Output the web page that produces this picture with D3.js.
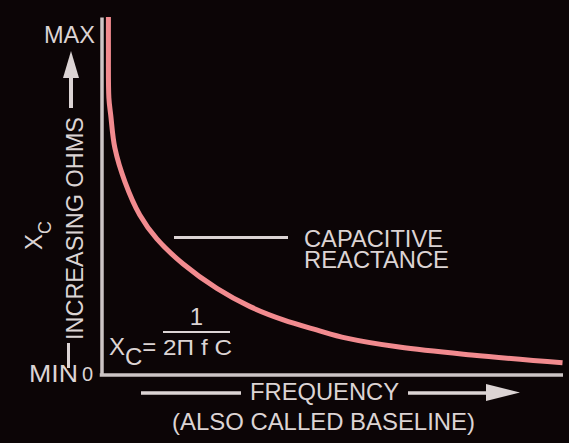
<!DOCTYPE html>
<html><head><meta charset="utf-8">
<script src="https://cdn.jsdelivr.net/npm/d3@7"></script>
<style>
html,body{margin:0;padding:0;background:#0c0506;}
svg{display:block;}
text{font-family:"Liberation Sans",Arial,sans-serif;fill:#dcd4d4;}
</style></head>
<body>
<script>
// Data (arbitrary units 0-100)
const frequency = [1.5, 1.5, 1.6, 2.0, 2.9, 5.1, 8.3, 12.0, 17.7, 25.0, 32.2, 39.4, 46.6, 53.1, 64.5, 80.2, 99.9];
const reactance = [100, 91.3, 77.4, 72.6, 63.4, 53.9, 44.7, 38.0, 31.0, 24.2, 19.1, 15.4, 12.6, 10.3, 7.8, 5.6, 3.4];
const yTickLabels = ["MAX", "MIN"];
const xAxisLabel = "FREQUENCY";
const xAxisSubLabel = "(ALSO CALLED BASELINE)";
const yAxisLabel = "INCREASING OHMS";
const curveLabel = ["CAPACITIVE", "REACTANCE"];

const W = 569, H = 443;
const svg = d3.select("body").append("svg").attr("width", W).attr("height", H);
svg.append("rect").attr("width", W).attr("height", H).attr("fill", "#0c0506");

const x = d3.scaleLinear().domain([0, 100]).range([101.5, 563]);
const y = d3.scaleLinear().domain([0, 100]).range([375, 17]);

const axisColor = "#cdc5c5";
const textColor = "#dcd4d4";

// axes
const gx = svg.append("g").attr("transform", `translate(0,${y(0)})`)
  .call(d3.axisBottom(x).tickValues([]).tickSizeOuter(0));
const gy = svg.append("g").attr("transform", `translate(${x(0)},0)`)
  .call(d3.axisLeft(y).tickValues([]).tickSizeOuter(0));
[gx, gy].forEach(g => g.select(".domain").attr("stroke", axisColor).attr("stroke-width", 3.5));
gx.select(".domain").attr("d", `M${x(0) - 1.75},0H${x(100)}`);

// curve
const pts = frequency.map((f, i) => [f, reactance[i]]);
svg.append("path").datum(pts)
  .attr("fill", "none").attr("stroke", "#f28b8f").attr("stroke-width", 5)
  .attr("stroke-linecap", "butt")
  .attr("d", d3.line().x(d => x(d[0])).y(d => y(d[1])).curve(d3.curveCatmullRom.alpha(0.5)));

// y tick labels
svg.append("text").attr("x", 95).attr("y", 43).attr("text-anchor", "end")
  .attr("font-size", 23).attr("textLength", 51).attr("lengthAdjust", "spacingAndGlyphs").text(yTickLabels[0]);
svg.append("text").attr("x", 29).attr("y", 382).attr("font-size", 23)
  .attr("textLength", 49).attr("lengthAdjust", "spacingAndGlyphs").text(yTickLabels[1]);
svg.append("text").attr("x", 82).attr("y", 381).attr("font-size", 20).text("0");

// y axis label rotated
svg.append("text").attr("transform", "translate(82.5,228.5) rotate(-90)")
  .attr("text-anchor", "middle").attr("font-size", 24)
  .attr("textLength", 223).attr("lengthAdjust", "spacingAndGlyphs").text(yAxisLabel);
const xc = svg.append("text").attr("transform", "translate(42,250) rotate(-90)").attr("font-size", 24);
xc.append("tspan").text("X");
xc.append("tspan").attr("font-size", 18).attr("dy", 9).text("C");

// up arrow
svg.append("line").attr("x1", 71).attr("x2", 71).attr("y1", 74).attr("y2", 108)
  .attr("stroke", textColor).attr("stroke-width", 4);
svg.append("path").attr("d", "M71,51L79,78L63,78Z").attr("fill", textColor);
// lower line
svg.append("line").attr("x1", 68.5).attr("x2", 68.5).attr("y1", 343).attr("y2", 368)
  .attr("stroke", textColor).attr("stroke-width", 3);

// x axis label with arrow
svg.append("text").attr("x", 250).attr("y", 400).attr("font-size", 24)
  .attr("textLength", 149).attr("lengthAdjust", "spacingAndGlyphs").text(xAxisLabel);
svg.append("line").attr("x1", 141).attr("x2", 241).attr("y1", 393).attr("y2", 393)
  .attr("stroke", textColor).attr("stroke-width", 3.5);
svg.append("line").attr("x1", 408).attr("x2", 490).attr("y1", 393).attr("y2", 393)
  .attr("stroke", textColor).attr("stroke-width", 3.5);
svg.append("path").attr("d", "M520,392.5L486,384L486,401Z").attr("fill", textColor);
svg.append("text").attr("x", 323.5).attr("y", 430).attr("text-anchor", "middle").attr("font-size", 24)
  .attr("textLength", 303).attr("lengthAdjust", "spacingAndGlyphs").text(xAxisSubLabel);

// curve label with leader
svg.append("line").attr("x1", 174).attr("x2", 288).attr("y1", 237.5).attr("y2", 237.5)
  .attr("stroke", textColor).attr("stroke-width", 3);
const cl = svg.append("text").attr("font-size", 23);
cl.append("tspan").attr("x", 304).attr("y", 247)
  .attr("textLength", 139).attr("lengthAdjust", "spacingAndGlyphs").text(curveLabel[0]);
cl.append("tspan").attr("x", 304).attr("y", 268)
  .attr("textLength", 145).attr("lengthAdjust", "spacingAndGlyphs").text(curveLabel[1]);

// formula
svg.append("text").attr("x", 196.5).attr("y", 325).attr("text-anchor", "middle").attr("font-size", 24).text("1");
svg.append("line").attr("x1", 163).attr("x2", 230).attr("y1", 332).attr("y2", 332)
  .attr("stroke", textColor).attr("stroke-width", 2);
svg.append("text").attr("x", 163).attr("y", 355).attr("font-size", 22)
  .attr("textLength", 69).attr("lengthAdjust", "spacingAndGlyphs").text("2Π f C");
const f = svg.append("text").attr("x", 109).attr("y", 355).attr("font-size", 24);
f.append("tspan").text("X");
f.append("tspan").attr("dy", 10).text("C");
f.append("tspan").attr("dy", -10).text("=");
</script>
</body></html>
